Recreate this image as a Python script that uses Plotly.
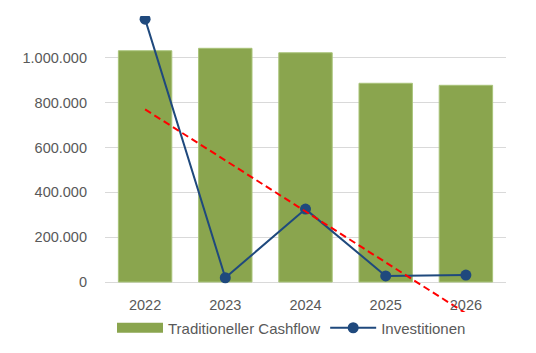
import numpy as np
import plotly.graph_objects as go

years = ["2022", "2023", "2024", "2025", "2026"]
cashflow = [1031000, 1042000, 1022000, 886000, 877000]
investitionen = [1172000, 19000, 325000, 27000, 31000]
y_ticks = [0, 200000, 400000, 600000, 800000, 1000000]

# linear trendline of Investitionen (as Excel does)
xi = np.arange(len(years))
slope, intercept = np.polyfit(xi, investitionen, 1)
trend = [slope * xi[0] + intercept, slope * xi[-1] + intercept]

font_col = "#595959"
fnt = "Liberation Sans"
green = "#8AA54E"
blue = "#1F497D"

fig = go.Figure()
fig.add_trace(go.Bar(
    x=years, y=cashflow, name="Traditioneller Cashflow", showlegend=False,
    marker=dict(color=green, line=dict(color="#A9C47A", width=1)),
))
# legend-only entry to get a wide rectangular swatch like Excel
fig.add_trace(go.Scatter(
    x=[None], y=[None], name="Traditioneller Cashflow", mode="lines",
    line=dict(color=green, width=10), hoverinfo="skip",
))
fig.add_trace(go.Scatter(
    x=years, y=investitionen, name="Investitionen", mode="lines+markers",
    line=dict(color=blue, width=2),
    marker=dict(color=blue, size=11),
))
fig.add_trace(go.Scatter(
    x=[years[0], years[-1]], y=trend, mode="lines", showlegend=False,
    line=dict(color="#FF0000", width=2, dash="7px,4px"),
    hoverinfo="skip",
))

H_top, H_zero, H_bot = 16, 282, 312
top_val = 1186000
span = top_val / (H_zero - H_top) * (H_bot - H_top)
bot_val = top_val - span

fig.update_layout(
    width=536, height=353,
    margin=dict(l=105, r=30, t=H_top, b=353 - H_bot, autoexpand=False),
    paper_bgcolor="white", plot_bgcolor="white",
    separators=",.",
    bargap=0.334,
    font=dict(family=fnt, size=14.5, color=font_col),
    showlegend=True,
    legend=dict(orientation="h", x=7 / 401, xanchor="left",
                y=-(328 - H_bot) / (H_bot - H_top), yanchor="middle",
                font=dict(size=15, color=font_col), itemwidth=46,
                tracegroupgap=0, bgcolor="rgba(0,0,0,0)"),
    xaxis=dict(anchor="free", position=(H_bot - H_zero) / (H_bot - H_top),
               showline=False, showgrid=False, zeroline=False,
               ticks="", tickfont=dict(size=14.5, color=font_col),
               ticklabelstandoff=12, automargin=False),
    yaxis=dict(range=[bot_val, top_val], tickvals=y_ticks, tickformat=",d",
               showgrid=True, gridcolor="#D9D9D9", gridwidth=1,
               zeroline=False, showline=False, ticks="",
               tickfont=dict(size=14.5, color=font_col),
               ticklabelstandoff=17, automargin=False),
)

fig.write_html("out.html")
